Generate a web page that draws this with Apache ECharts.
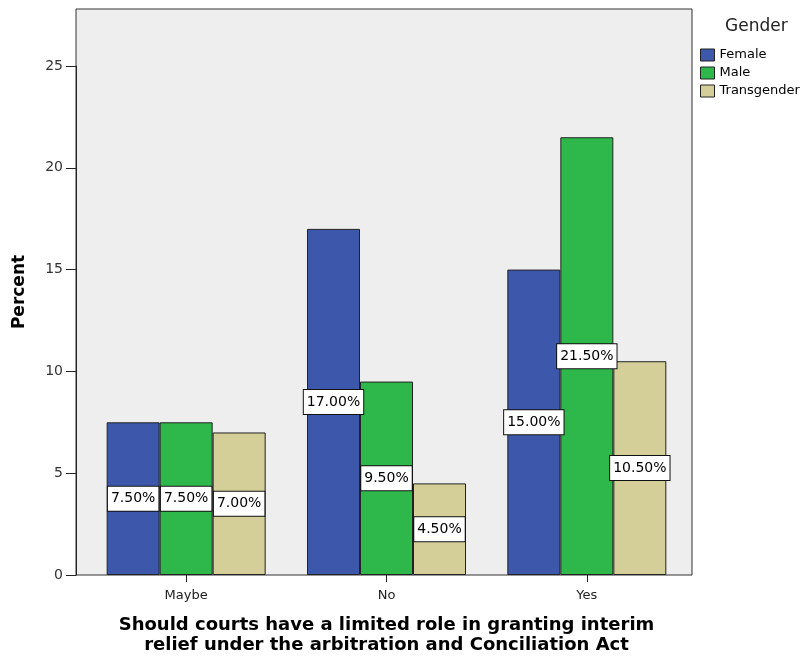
<!DOCTYPE html>
<html>
<head>
<meta charset="utf-8">
<script src="https://cdn.jsdelivr.net/npm/echarts@6/dist/echarts.min.js"></script>
<style>html,body{margin:0;padding:0;background:#fff;}#c{width:811px;height:656px;}</style>
</head>
<body>
<div id="c"></div>
<script>
var categories = ['Maybe', 'No', 'Yes'];
var female = [7.5, 17.0, 15.0];
var male = [7.5, 9.5, 21.5];
var transgender = [7.0, 4.5, 10.5];
var seriesNames = ['Female', 'Male', 'Transgender'];
var yTicks = [0, 5, 10, 15, 20, 25];

var colors = ['#3d57ab', '#2eb84b', '#d4cf99'];
var FONT = '"DejaVu Sans", Verdana, sans-serif';

function labelCfg() {
  return {
    show: true,
    position: 'inside',
    formatter: function (p) { return p.value.toFixed(2) + '%'; },
    color: '#000',
    fontFamily: FONT,
    fontSize: 14,
    lineHeight: 17,
    backgroundColor: '#fff',
    borderColor: '#111',
    borderWidth: 1,
    padding: [4, 3, 3, 3]
  };
}

var dataSets = [female, male, transgender];
var series = dataSets.map(function (d, i) {
  return {
    name: seriesNames[i],
    type: 'bar',
    xAxisIndex: 1,
    yAxisIndex: 1,
    data: d,
    barWidth: 53,
    barGap: '0%',
    itemStyle: { color: colors[i], borderColor: '#222', borderWidth: 1 },
    label: labelCfg(),
    emphasis: { disabled: true }
  };
});

var chart = echarts.init(document.getElementById('c'), null, { renderer: 'canvas' });
chart.setOption({
  animation: false,
  textStyle: { fontFamily: FONT },
  title: {
    text: 'Gender',
    left: 725,
    top: 18,
    padding: 0,
    textStyle: { fontFamily: FONT, fontSize: 17, fontWeight: 'normal', color: '#222' }
  },
  legend: {
    orient: 'vertical',
    left: 700,
    top: 47,
    padding: 0,
    itemWidth: 14,
    itemHeight: 12,
    itemGap: 2,
    icon: 'rect',
    selectedMode: false,
    data: seriesNames,
    itemStyle: { borderColor: '#222', borderWidth: 1 },
    textStyle: { fontFamily: FONT, fontSize: 13, lineHeight: 16, color: '#000' }
  },
  grid: [
    { left: 76, top: 9, width: 616, height: 566, show: true, backgroundColor: '#eeeeee', borderColor: '#333', borderWidth: 1, outerBoundsMode: 'none', containLabel: false },
    { left: 86, top: 66, width: 601, height: 509, outerBoundsMode: 'none', containLabel: false }
  ],
  xAxis: [
    { gridIndex: 0, type: 'category', data: categories, show: false },
    {
      gridIndex: 1,
      type: 'category',
      data: categories,
      axisLine: { show: false },
      axisTick: { show: true, alignWithLabel: true, length: 7, lineStyle: { color: '#222' } },
      axisLabel: { fontFamily: FONT, fontSize: 13, color: '#222', margin: 14 },
      name: 'Should courts have a limited role in granting interim\nrelief under the arbitration and Conciliation Act',
      nameLocation: 'middle',
      nameGap: 40,
      nameTextStyle: { fontFamily: FONT, fontSize: 18, fontWeight: 'bold', color: '#000', lineHeight: 20 }
    }
  ],
  yAxis: [
    {
      gridIndex: 0, type: 'value', min: 0, max: 28,
      axisLine: { show: false }, axisTick: { show: false }, axisLabel: { show: false }, splitLine: { show: false },
      name: 'Percent',
      nameLocation: 'middle',
      nameGap: 48,
      nameTextStyle: { fontFamily: FONT, fontSize: 17, fontWeight: 'bold', color: '#000' }
    },
    {
      gridIndex: 1,
      type: 'value',
      min: 0,
      max: 25,
      interval: 5,
      offset: 10,
      splitLine: { show: false },
      axisLine: { show: true, lineStyle: { color: '#222', width: 1 } },
      axisTick: { show: true, length: 10, lineStyle: { color: '#222' } },
      axisLabel: {
        fontFamily: FONT, fontSize: 14, color: '#333', margin: 13,
        formatter: function (v) { return yTicks.indexOf(v) >= 0 ? String(v) : ''; }
      }
    }
  ],
  series: series
});
</script>
</body>
</html>
